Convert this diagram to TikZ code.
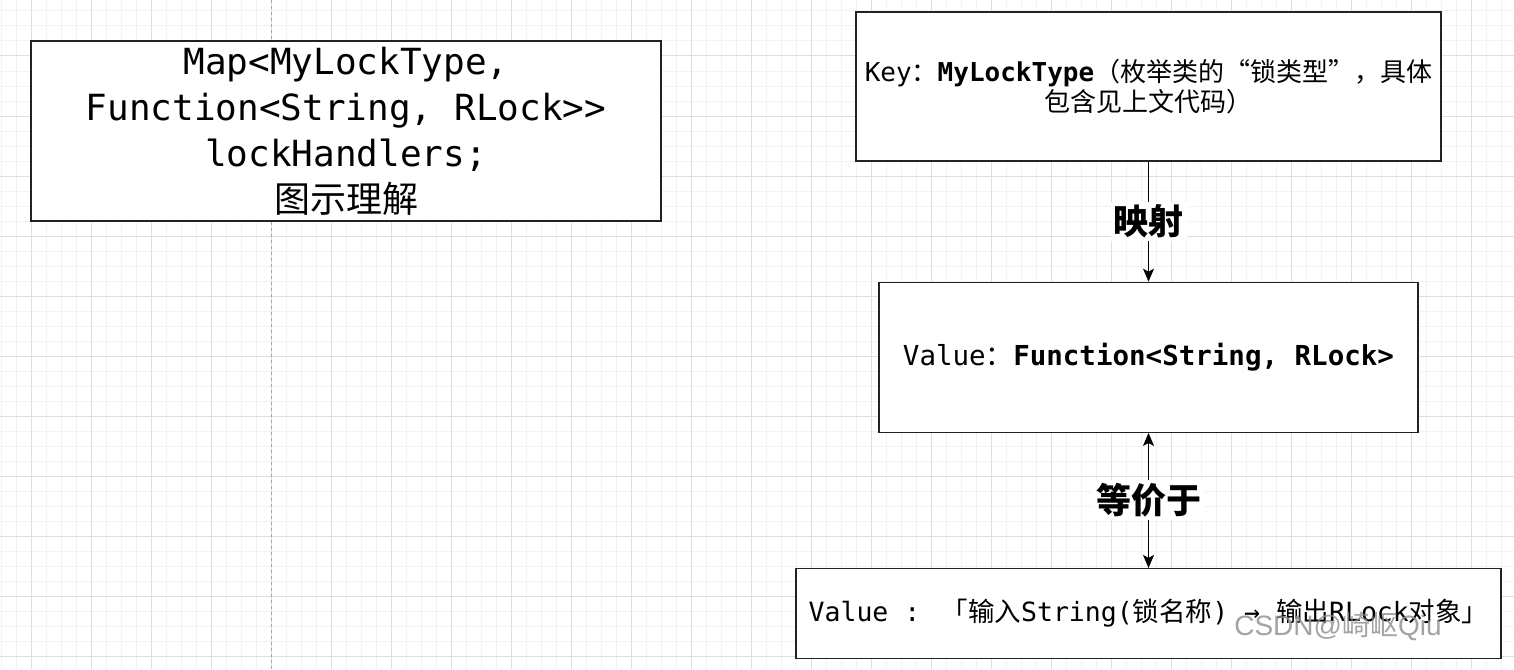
\documentclass[tikz,border=0pt]{standalone}
\usepackage{fontspec}
\setmainfont{DejaVu Sans Mono}[Ligatures=TeXOff]
\newfontfamily\cjk{Noto Sans CJK SC}
\newfontfamily\wmfont{Liberation Sans}
\usetikzlibrary{positioning,arrows.meta}
\definecolor{minorline}{HTML}{F2F2F2}
\definecolor{majorline}{HTML}{DEDEDE}
\definecolor{edgeline}{HTML}{222222}
\begin{document}
\begin{tikzpicture}[
				x=1pt, y=-1pt,
				>={Stealth[length=13pt, width=11pt, inset=3pt]},
				block/.style={rectangle, draw=edgeline, line width=1.3pt, fill=white, align=center, inner sep=0pt},
				tag/.style={fill=white, inner sep=3pt, font=\fontsize{35}{40}\selectfont\cjk\bfseries},
				link/.style={line width=1pt, ->}
				]
			\useasboundingbox (0,0) rectangle (1514,669);
			\fill[white] (0,0) rectangle (1514,669);
			\foreach \x in {1,16,...,1514} \draw[minorline, line width=1pt] (\x,0) -- (\x,669);
			\foreach \y in {11,26,...,669} \draw[minorline, line width=1pt] (0,\y) -- (1514,\y);
			\foreach \x in {31,91,...,1514} \draw[majorline, line width=1pt] (\x,0) -- (\x,669);
			\foreach \y in {56,116,...,669} \draw[majorline, line width=1pt] (0,\y) -- (1514,\y);
			\draw[black!35, line width=1pt, dashed] (271,0) -- (271,669);
			\node [block, minimum width=630pt, minimum height=180pt, font=\fontsize{36}{46}\selectfont] (map) at (346,131)
				{Map<MyLockType,\\Function<String, RLock>>\\lockHandlers;\\{\cjk 图示理解}};
			\node [block, minimum width=585pt, minimum height=149pt, font=\fontsize{26}{30}\selectfont] (key) at (1148.5,86.5)
				{Key{\cjk ：}\textbf{MyLockType}{\cjk （枚举类的“锁类型”，具体}\\{\cjk 包含见上文代码）}};
			\node [block, minimum width=539pt, minimum height=150pt, font=\fontsize{27.5}{30}\selectfont, below=120pt of key] (val)
				{Value{\cjk ：}\textbf{Function<String, RLock>}};
			\node [block, minimum width=705pt, minimum height=90pt, font=\fontsize{26.5}{30}\selectfont, below=135pt of val] (lambda)
				{Value : {\cjk 「输入}String({\cjk 锁名称}) → {\cjk 输出}RLock{\cjk 对象」}};
			\draw [link] (key) -- node [tag] (map-tag) {映射} (val);
			\draw [link, <->] (val) -- node [tag] (eq-tag) {等价于} (lambda);
			\node [text=black!45, opacity=0.8, font=\fontsize{28}{30}\selectfont\wmfont] (mark) at (1338,626) {CSDN@{\cjk 崎岖}Qiu};
			\end{tikzpicture}
\end{document}
